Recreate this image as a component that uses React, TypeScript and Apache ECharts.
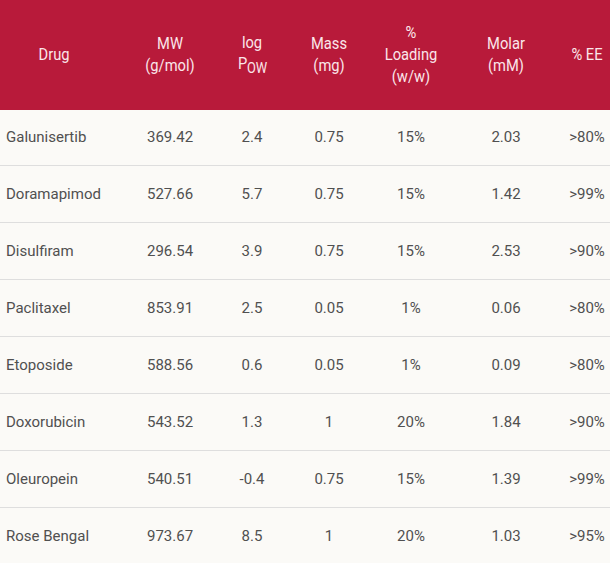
import React, { useEffect, useRef } from "react";
import * as echarts from "echarts";

const drugs = ["Galunisertib", "Doramapimod", "Disulfiram", "Paclitaxel", "Etoposide", "Doxorubicin", "Oleuropein", "Rose Bengal"];
const mw = ["369.42", "527.66", "296.54", "853.91", "588.56", "543.52", "540.51", "973.67"];
const logPow = ["2.4", "5.7", "3.9", "2.5", "0.6", "1.3", "-0.4", "8.5"];
const massMg = ["0.75", "0.75", "0.75", "0.05", "0.05", "1", "0.75", "1"];
const loading = ["15%", "15%", "15%", "1%", "1%", "20%", "15%", "20%"];
const molar = ["2.03", "1.42", "2.53", "0.06", "0.09", "1.84", "1.39", "1.03"];
const ee = [">80%", ">99%", ">90%", ">80%", ">80%", ">90%", ">99%", ">95%"];

const W = 610;
const H = 563;
const HEADER_H = 110;
const ROW_TOP = 108;
const ROW_H = 57;
const colX = [6, 170, 252, 329, 411, 506, 587];
const HEAD = "#B81A3A";
const HEAD_TXT = "#FBE6EA";
const BODY_TXT = "#505050";
const FONT = "Roboto, 'Noto Sans', sans-serif";
const HSCALE = 0.92;

export default function App() {
  const ref = useRef<HTMLDivElement>(null);
  useEffect(() => {
    document.body.style.margin = "0";
    const chart = echarts.init(ref.current!, null, { renderer: "svg" });
    const els: any[] = [];
    els.push({ type: "rect", shape: { x: 0, y: 0, width: W, height: H }, style: { fill: "#FBFAF7" } });
    els.push({ type: "rect", shape: { x: 0, y: 0, width: W, height: HEADER_H }, style: { fill: HEAD } });
    const hStyle = (extra: any) => ({
      fill: HEAD_TXT, fontFamily: FONT, fontSize: 16, lineHeight: 22,
      align: "center", verticalAlign: "middle", ...extra,
    });
    const hText = (x: number, y: number, extra: any) => ({
      type: "text", x, y, scaleX: HSCALE, style: hStyle(extra),
    });
    const hy = 55;
    els.push(hText(54, hy, { text: "Drug" }));
    els.push(hText(colX[1], hy, { text: "MW\n(g/mol)" }));
    els.push(hText(colX[2], 43, { text: "log" }));
    els.push(hText(238, 64, { text: "P", align: "left" }));
    els.push(hText(247, 68, { text: "OW", align: "left", fontSize: 14 }));
    els.push(hText(colX[3], hy, { text: "Mass\n(mg)" }));
    els.push(hText(colX[4], hy, { text: "%\nLoading\n(w/w)" }));
    els.push(hText(colX[5], hy, { text: "Molar\n(mM)" }));
    els.push(hText(colX[6], hy, { text: "% EE" }));

    const cols = [drugs, mw, logPow, massMg, loading, molar, ee];
    drugs.forEach((_, i) => {
      const top = ROW_TOP + i * ROW_H;
      const cy = top + ROW_H / 2;
      if (i > 0) {
        els.push({ type: "line", shape: { x1: 0, y1: top + 0.5, x2: W, y2: top + 0.5 }, style: { stroke: "#DEDEDE", lineWidth: 1 } });
      }
      cols.forEach((col, c) => {
        els.push({
          type: "text", x: colX[c], y: cy,
          style: {
            text: col[i], fill: BODY_TXT, fontFamily: FONT, fontSize: 15,
            align: c === 0 ? "left" : "center", verticalAlign: "middle",
          },
        });
      });
    });

    chart.setOption({ animation: false, graphic: { elements: els } });
    return () => chart.dispose();
  }, []);
  return <div ref={ref} style={{ width: W, height: H }} />;
}
